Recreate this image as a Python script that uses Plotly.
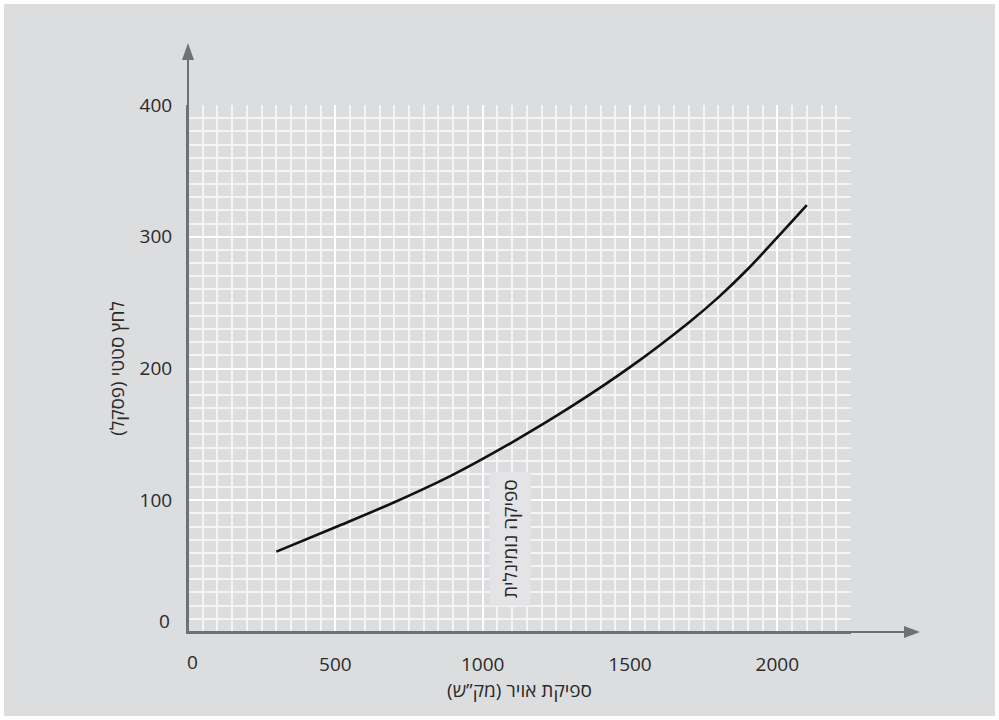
import plotly.graph_objects as go

# Data
flow = [300, 500, 700, 900, 1100, 1300, 1500, 1700, 1800, 1900, 2000, 2100]
pressure = [61, 79.5, 98.5, 119.5, 144, 171, 201, 235, 254, 275.5, 299.5, 324]

x_ticks = [0, 500, 1000, 1500, 2000]
y_ticks = [0, 100, 200, 300, 400]

x_title = "ספיקת אויר (מק”ש)"
y_title = "לחץ סטטי (פסקל)"
note_text = "ספיקה נומינלית"
note_x, note_y = 1095, 71

BG = "#dcdddf"
AXIS = "#707173"
FONT = "Open Sans, Noto Sans, sans-serif"
TXT = "#2a2a2a"
FS = 19

fig = go.Figure()
fig.add_trace(go.Scatter(
    x=flow, y=pressure, mode="lines",
    line=dict(color="#111111", width=2.6, shape="spline", smoothing=1.0),
    hoverinfo="skip", showlegend=False,
))

W, H = 999, 720
L, R, T, B = 188, 148, 105, 88
pw, ph = W - L - R, H - T - B

def px(xp):
    return (xp - L) / pw

def py(yp):
    return (H - B - yp) / ph

shapes = [
    # grey panel with thin white frame
    dict(type="rect", xref="paper", yref="paper",
         x0=px(4), x1=px(995), y0=py(716), y1=py(4),
         fillcolor=BG, line=dict(width=0), layer="below"),
    # y axis arrow
    dict(type="line", xref="paper", yref="paper", x0=0, x1=0, y0=0, y1=py(58),
         line=dict(color=AXIS, width=2)),
    dict(type="path", xref="paper", yref="paper",
         path=f"M {-6/pw},{py(60)} L {6/pw},{py(60)} L 0,{py(43)} Z",
         fillcolor=AXIS, line=dict(width=0)),
    # x axis arrow
    dict(type="line", xref="paper", yref="paper", x0=0, x1=px(906), y0=0, y1=0,
         line=dict(color=AXIS, width=2)),
    dict(type="path", xref="paper", yref="paper",
         path=f"M {px(904)},{6/ph} L {px(904)},{-6/ph} L {px(920)},0 Z",
         fillcolor=AXIS, line=dict(width=0)),
]

annotations = [
    dict(x=note_x, y=note_y, xref="x", yref="y", text=note_text, textangle=-90,
         showarrow=False, bgcolor="#e4e4e6", borderpad=7,
         font=dict(family=FONT, size=FS, color=TXT)),
    # origin labels, nudged away from the corner as in the reference
    dict(x=0, y=0, xref="x", yref="y", text=str(y_ticks[0]), showarrow=False,
         xanchor="right", yanchor="middle", xshift=-16, yshift=11,
         font=dict(family=FONT, size=FS, color=TXT)),
    dict(x=0, y=0, xref="x", yref="y", text=str(x_ticks[0]), showarrow=False,
         xanchor="center", yanchor="top", xshift=4, yshift=-15,
         font=dict(family=FONT, size=FS, color=TXT)),
]

fig.update_layout(
    width=W, height=H,
    margin=dict(l=L, r=R, t=T, b=B, pad=0),
    paper_bgcolor="white", plot_bgcolor=BG,
    font=dict(family=FONT, size=FS, color=TXT),
    shapes=shapes, annotations=annotations,
    showlegend=False,
)

fig.update_xaxes(
    range=[0, 2250], tickvals=x_ticks[1:], ticks="", ticklabelstandoff=14,
    showgrid=True, gridcolor="white", gridwidth=2.4,
    minor=dict(dtick=50, showgrid=True, gridcolor="#f4f4f5", gridwidth=1.5, ticks=""),
    zeroline=False, showline=True, linecolor=AXIS, linewidth=2,
    title=dict(text=x_title, standoff=7, font=dict(family=FONT, size=FS, color=TXT)),
    tickfont=dict(family=FONT, size=FS, color=TXT), fixedrange=True,
)
fig.update_yaxes(
    range=[0, 400], tickvals=y_ticks[1:], ticks="", ticklabelstandoff=10,
    showgrid=True, gridcolor="white", gridwidth=2.4,
    minor=dict(dtick=10, showgrid=True, gridcolor="#f4f4f5", gridwidth=1.5, ticks=""),
    zeroline=False, showline=True, linecolor=AXIS, linewidth=2,
    title=dict(text=y_title, standoff=10, font=dict(family=FONT, size=FS, color=TXT)),
    tickfont=dict(family=FONT, size=FS, color=TXT), fixedrange=True,
)

fig.write_html("out.html", config={"displayModeBar": False},
               post_script="document.body.style.margin='0';document.body.style.overflow='hidden';")
